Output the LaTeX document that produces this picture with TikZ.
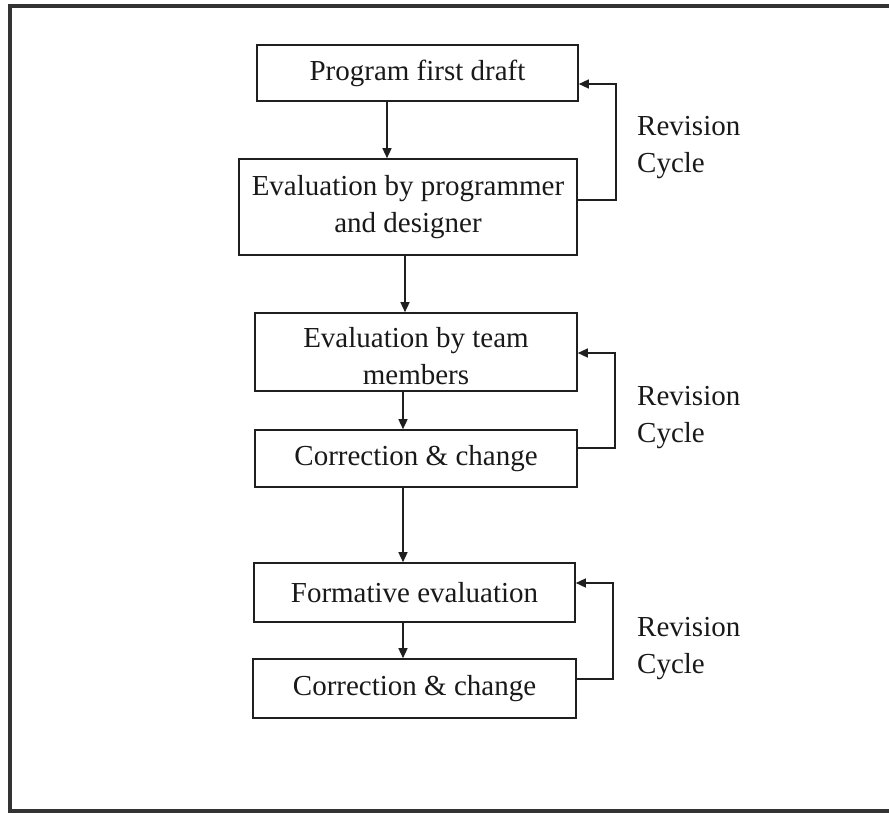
\documentclass[tikz,border=0pt]{standalone}
\usepackage{fontspec}
\setmainfont{Liberation Serif}
\usetikzlibrary{arrows.meta}
\begin{document}
\begin{tikzpicture}[x=1pt,y=-1pt,
  stagebox/.style={draw=black!88,line width=1.6pt,inner sep=0pt,align=center,
    font=\fontsize{29}{37}\selectfont,text=black!90},
  flow/.style={draw=black!88,line width=1.4pt,-{Triangle[length=10pt,width=9pt]}},
  cyclelabel/.style={anchor=base west,inner sep=0pt,font=\fontsize{29}{37}\selectfont,text=black!90},
  frame/.style={draw=black!80,line width=4pt}]
\useasboundingbox (0,0) rectangle (889,813);

% outer frame (left, top and bottom edges)
\draw[frame] (889,6) -- (10,6) -- (10,811) -- (889,811);

% stages
\node[stagebox,minimum width=321pt,minimum height=56pt] (draft) at (417.5,73) {Program first draft};
\node[stagebox,minimum width=338pt,minimum height=96pt] (evalpd) at (408,207) {Evaluation by programmer\\and designer};
\node[stagebox,minimum width=322pt,minimum height=78pt] (evalteam) at (416,352) {\rule{0pt}{28pt}Evaluation by team\\members};
\node[stagebox,minimum width=322pt,minimum height=57pt] (corrA) at (416,458.5) {Correction \& change};
\node[stagebox,minimum width=321pt,minimum height=59pt] (formative) at (414.5,592.5) {Formative evaluation};
\node[stagebox,minimum width=323pt,minimum height=59pt] (corrB) at (414.5,688.5) {Correction \& change};

% vertical flow
\coordinate (xa) at (387,0);
\coordinate (xb) at (405,0);
\coordinate (xc) at (403,0);
\draw[flow] (draft.south -| xa) -- (evalpd.north -| xa);
\draw[flow] (evalpd.south -| xb) -- (evalteam.north -| xb);
\draw[flow] (evalteam.south -| xc) -- (corrA.north -| xc);
\draw[flow] (corrA.south -| xc) -- (formative.north -| xc);
\draw[flow] (formative.south -| xc) -- (corrB.north -| xc);

% revision loops
\coordinate (loopAlo) at (616,200);
\coordinate (loopAhi) at (616,84);
\draw[flow] (evalpd.east |- loopAlo) -- (loopAlo) -- (loopAhi) -- (draft.east |- loopAhi);
\coordinate (loopBlo) at (615,448);
\coordinate (loopBhi) at (615,353);
\draw[flow] (corrA.east |- loopBlo) -- (loopBlo) -- (loopBhi) -- (evalteam.east |- loopBhi);
\coordinate (loopClo) at (613,679);
\coordinate (loopChi) at (613,583);
\draw[flow] (corrB.east |- loopClo) -- (loopClo) -- (loopChi) -- (formative.east |- loopChi);

% loop labels
\node[cyclelabel] (revA) at (637,136) {Revision};
\node[cyclelabel] (cycA) at (637,173) {Cycle};
\node[cyclelabel] (revB) at (637,405) {Revision};
\node[cyclelabel] (cycB) at (637,442) {Cycle};
\node[cyclelabel] (revC) at (637,636) {Revision};
\node[cyclelabel] (cycC) at (637,673) {Cycle};
\end{tikzpicture}
\end{document}
